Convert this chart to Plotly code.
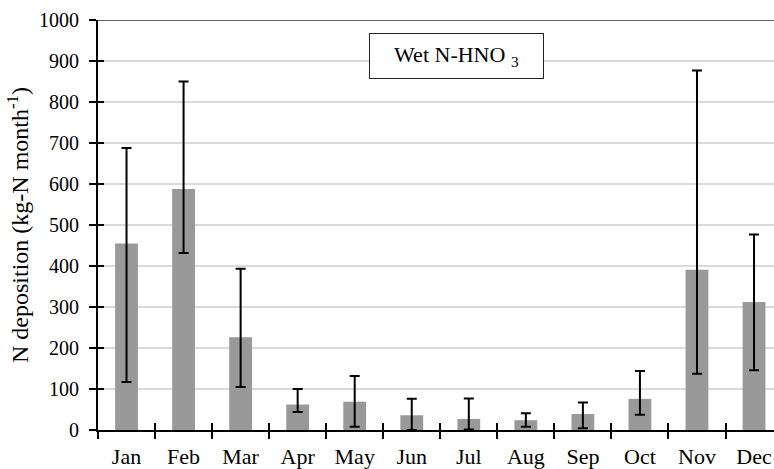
import plotly.graph_objects as go

# Monthly wet N-HNO3 deposition (kg-N per month): mean with lower/upper bounds
months = ["Jan", "Feb", "Mar", "Apr", "May", "Jun",
          "Jul", "Aug", "Sep", "Oct", "Nov", "Dec"]
mean_dep = [455, 588, 226, 62, 69, 36, 27, 24, 39, 76, 391, 312]
upper_dep = [688, 850, 393, 100, 132, 76, 77, 41, 67, 144, 877, 477]
lower_dep = [117, 432, 105, 44, 8, 0, 1, 8, 4, 37, 137, 146]

y_ticks = list(range(0, 1001, 100))

err_plus = [u - m for u, m in zip(upper_dep, mean_dep)]
err_minus = [m - l for m, l in zip(mean_dep, lower_dep)]

FONT = "Liberation Serif"
X_RANGE = [-0.5, 11.35]

fig = go.Figure()
fig.add_trace(go.Bar(
    x=months,
    y=mean_dep,
    marker=dict(color="#999999", line=dict(width=0)),
    error_y=dict(type="data", symmetric=False,
                 array=err_plus, arrayminus=err_minus,
                 color="black", thickness=2, width=5),
    showlegend=False,
))

fig.update_layout(
    width=774, height=469,
    margin=dict(l=98, r=0, t=20, b=39),
    paper_bgcolor="white", plot_bgcolor="white",
    bargap=0.6,
    font=dict(family=FONT, color="black"),
    xaxis=dict(
        type="category", range=X_RANGE,
        tickson="boundaries", ticks="outside", ticklen=7, tickwidth=1.5,
        tickcolor="black",
        showline=True, linecolor="black", linewidth=2,
        showgrid=False, zeroline=False,
        tickfont=dict(family=FONT, size=22, color="black"),
        ticklabelstandoff=6,
    ),
    yaxis=dict(
        range=[0, 1000], tickvals=y_ticks,
        ticks="outside", ticklen=7, tickwidth=1.5, tickcolor="black",
        showline=True, linecolor="black", linewidth=2,
        showgrid=True, gridcolor="#dadada", gridwidth=1.5,
        zeroline=False,
        tickfont=dict(family=FONT, size=20, color="black"),
        ticklabelstandoff=6,
        title=dict(text="N deposition (kg-N month<sup>-1</sup>)",
                   font=dict(family=FONT, size=24, color="black"),
                   standoff=4),
    ),
    # companion axes that carry the inward half of the crossing tick marks
    xaxis2=dict(
        overlaying="x", anchor="y", side="bottom", range=X_RANGE,
        tickvals=[i - 0.5 for i in range(12)], ticks="inside", ticklen=7,
        tickwidth=1.5, tickcolor="black",
        showticklabels=False, showgrid=False, showline=False, zeroline=False,
    ),
    yaxis2=dict(
        overlaying="y", anchor="x", side="left", range=[0, 1000],
        tickvals=y_ticks, ticks="inside", ticklen=6, tickwidth=1.5,
        tickcolor="black",
        showticklabels=False, showgrid=False, showline=False, zeroline=False,
    ),
)

# invisible trace binding the companion axes
fig.add_trace(go.Scatter(x=[None], y=[None], xaxis="x2", yaxis="y2",
                         showlegend=False, hoverinfo="skip"))

# top frame line
fig.add_shape(type="line", xref="paper", yref="y", x0=0, x1=1, y0=1000, y1=1000,
              line=dict(color="#333333", width=1.5))

# boxed series label
fig.add_annotation(
    xref="paper", yref="paper", x=0.530, y=0.912,
    xanchor="center", yanchor="middle",
    text="Wet N-HNO <sub>3</sub>", showarrow=False,
    font=dict(family=FONT, size=22, color="black"),
    width=173, height=44, align="center", valign="middle",
    bordercolor="#222222", borderwidth=1, borderpad=0, bgcolor="white",
)

fig.write_html("out.html")
